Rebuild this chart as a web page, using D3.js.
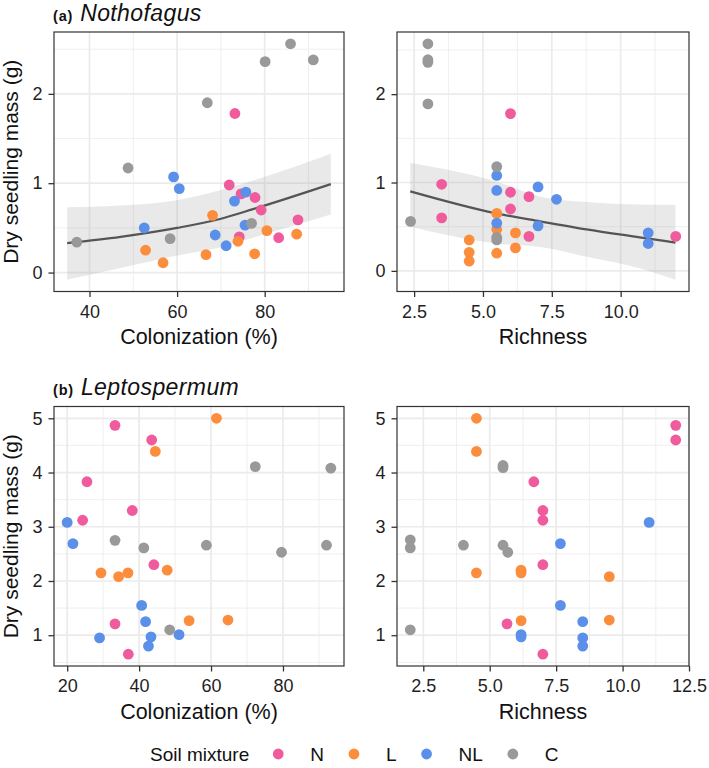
<!DOCTYPE html>
<html>
<head>
<meta charset="utf-8">
<script src="https://cdn.jsdelivr.net/npm/d3@7"></script>
<style>
    body { margin: 0; background: #fff; }
    svg text { font-family: "Liberation Sans", Arial, Helvetica, sans-serif; }
</style>
</head>
<body>
<svg id="chart" width="709" height="768"></svg>
<script>
// Soil mixture groups and their colours
const soilMixtures = ['N', 'L', 'NL', 'C'];
const soilColors = ['#EF5B9C', '#FC8D3D', '#5A8FEA', '#999999'];

// (a) Nothofagus: [colonization %, dry mass g, soil mixture]
const nothoColonization = [
    [73.2, 1.78, 'N'], [71.9, 0.98, 'N'], [74.6, 0.88, 'N'], [77.8, 0.84, 'N'],
    [79.2, 0.70, 'N'], [74.2, 0.40, 'N'], [83.2, 0.39, 'N'], [87.6, 0.59, 'N'],
    [68.1, 0.64, 'L'], [52.8, 0.25, 'L'], [56.8, 0.11, 'L'], [66.6, 0.20, 'L'],
    [73.9, 0.35, 'L'], [77.7, 0.21, 'L'], [80.5, 0.47, 'L'], [87.3, 0.43, 'L'],
    [59.2, 1.07, 'NL'], [60.5, 0.94, 'NL'], [52.5, 0.50, 'NL'], [73.1, 0.80, 'NL'],
    [75.7, 0.90, 'NL'], [68.7, 0.42, 'NL'], [71.2, 0.30, 'NL'], [75.5, 0.53, 'NL'],
    [37.1, 0.34, 'C'], [48.8, 1.17, 'C'], [66.9, 1.90, 'C'], [58.4, 0.38, 'C'],
    [80.1, 2.36, 'C'], [85.9, 2.56, 'C'], [91.1, 2.38, 'C'], [77.0, 0.55, 'C']
];

// (a) Nothofagus: [richness, dry mass g, soil mixture]
const nothoRichness = [
    [3.5, 0.98, 'N'], [3.5, 0.60, 'N'], [6.0, 1.78, 'N'], [6.0, 0.89, 'N'],
    [6.0, 0.70, 'N'], [6.67, 0.84, 'N'], [6.67, 0.39, 'N'], [12.0, 0.39, 'N'],
    [4.5, 0.35, 'L'], [4.5, 0.21, 'L'], [4.5, 0.11, 'L'], [5.5, 0.65, 'L'],
    [5.5, 0.47, 'L'], [5.5, 0.20, 'L'], [6.18, 0.43, 'L'], [6.18, 0.26, 'L'],
    [5.5, 1.08, 'NL'], [5.5, 0.91, 'NL'], [5.5, 0.54, 'NL'], [7.0, 0.95, 'NL'],
    [7.0, 0.51, 'NL'], [7.67, 0.81, 'NL'], [11.0, 0.43, 'NL'], [11.0, 0.31, 'NL'],
    [3.0, 2.57, 'C'], [3.0, 2.39, 'C'], [3.0, 2.36, 'C'], [3.0, 1.89, 'C'],
    [2.37, 0.56, 'C'], [5.5, 1.18, 'C'], [5.5, 0.38, 'C'], [5.5, 0.35, 'C']
];

// (b) Leptospermum: [colonization %, dry mass g, soil mixture]
const leptoColonization = [
    [33.3, 4.87, 'N'], [43.5, 4.60, 'N'], [25.5, 3.83, 'N'], [38.1, 3.30, 'N'],
    [24.3, 3.12, 'N'], [44.1, 2.30, 'N'], [33.3, 1.21, 'N'], [37.0, 0.65, 'N'],
    [61.5, 5.00, 'L'], [44.5, 4.39, 'L'], [29.4, 2.15, 'L'], [34.3, 2.08, 'L'],
    [36.9, 2.15, 'L'], [47.8, 2.20, 'L'], [53.9, 1.27, 'L'], [64.7, 1.28, 'L'],
    [20.0, 3.08, 'NL'], [21.6, 2.69, 'NL'], [40.7, 1.55, 'NL'], [41.8, 1.25, 'NL'],
    [43.3, 0.97, 'NL'], [42.6, 0.80, 'NL'], [29.0, 0.95, 'NL'], [51.1, 1.01, 'NL'],
    [33.3, 2.75, 'C'], [41.3, 2.61, 'C'], [58.7, 2.66, 'C'], [72.3, 4.11, 'C'],
    [93.3, 4.08, 'C'], [79.6, 2.53, 'C'], [92.1, 2.66, 'C'], [48.5, 1.10, 'C']
];

// (b) Leptospermum: [richness, dry mass g, soil mixture]
const leptoRichness = [
    [12.0, 4.87, 'N'], [12.0, 4.60, 'N'], [6.66, 3.83, 'N'], [7.0, 3.30, 'N'],
    [7.0, 3.12, 'N'], [7.0, 2.30, 'N'], [5.65, 1.21, 'N'], [7.0, 0.65, 'N'],
    [4.5, 5.00, 'L'], [4.5, 4.39, 'L'], [4.5, 2.15, 'L'], [6.18, 2.20, 'L'],
    [6.18, 2.15, 'L'], [6.18, 1.27, 'L'], [9.5, 2.08, 'L'], [9.5, 1.28, 'L'],
    [11.0, 3.08, 'NL'], [7.66, 2.69, 'NL'], [7.66, 1.55, 'NL'], [8.5, 1.25, 'NL'],
    [8.5, 0.95, 'NL'], [8.5, 0.80, 'NL'], [6.18, 1.01, 'NL'], [6.18, 0.97, 'NL'],
    [5.5, 4.13, 'C'], [5.5, 4.09, 'C'], [2.01, 2.76, 'C'], [2.01, 2.61, 'C'],
    [4.01, 2.66, 'C'], [5.5, 2.66, 'C'], [5.68, 2.53, 'C'], [2.01, 1.10, 'C']
];

// Fitted curves: [x, fit, lower, upper]
const nothoColFit = [
    [34.9, 0.33, -0.08, 0.73],
    [47.1, 0.40, 0.05, 0.75],
    [60.0, 0.50, 0.19, 0.81],
    [69.8, 0.60, 0.28, 0.92],
    [77.35, 0.71, 0.39, 1.03],
    [95.1, 0.99, 0.65, 1.33]
];
const nothoRichFit = [
    [2.36, 0.90, 0.50, 1.22],
    [5.49, 0.65, 0.31, 1.01],
    [7.08, 0.56, 0.27, 0.84],
    [8.76, 0.47, 0.16, 0.78],
    [10.69, 0.38, 0.03, 0.75],
    [11.99, 0.32, -0.10, 0.745]
];

// Tick values
const massTicksA = [0, 1, 2];
const massTicksB = [1, 2, 3, 4, 5];
const colTicksA = [40, 60, 80];
const colTicksB = [20, 40, 60, 80];
const richTicksA = [2.5, 5.0, 7.5, 10.0];
const richTicksB = [2.5, 5.0, 7.5, 10.0, 12.5];

const colorScale = d3.scaleOrdinal().domain(soilMixtures).range(soilColors);
const svg = d3.select("#chart");

// ggplot-style 5% expansion of the data range
function expand([lo, hi]) {
    const pad = (hi - lo) * 0.05;
    return [lo - pad, hi + pad];
}

// Minor breaks halfway between the major ones
function minorBreaks(ticks, domain) {
    const step = ticks[1] - ticks[0];
    const out = [ticks[0] - step / 2].concat(ticks.map(t => t + step / 2));
    return out.filter(v => v > domain[0] && v < domain[1]);
}

function drawPanel(p) {
    const fit = p.fit || [];
    const xs = p.points.map(d => d[0]).concat(fit.map(d => d[0]));
    const ys = p.points.map(d => d[1]).concat(fit.flatMap(d => [d[2], d[3]]));

    const xScale = d3.scaleLinear().domain(expand(d3.extent(xs))).range([p.left, p.right]);
    const yScale = d3.scaleLinear().domain(expand(d3.extent(ys))).range([p.bottom, p.top]);

    const g = svg.append("g");

    // grid lines
    minorBreaks(p.xTicks, xScale.domain()).forEach(v => {
        g.append("line").attr("x1", xScale(v)).attr("x2", xScale(v))
            .attr("y1", p.top).attr("y2", p.bottom)
            .attr("stroke", "#EBEBEB").attr("stroke-width", 0.8);
    });
    minorBreaks(p.yTicks, yScale.domain()).forEach(v => {
        g.append("line").attr("y1", yScale(v)).attr("y2", yScale(v))
            .attr("x1", p.left).attr("x2", p.right)
            .attr("stroke", "#EBEBEB").attr("stroke-width", 0.8);
    });
    p.xTicks.forEach(v => {
        g.append("line").attr("x1", xScale(v)).attr("x2", xScale(v))
            .attr("y1", p.top).attr("y2", p.bottom)
            .attr("stroke", "#EBEBEB").attr("stroke-width", 1.7);
    });
    p.yTicks.forEach(v => {
        g.append("line").attr("y1", yScale(v)).attr("y2", yScale(v))
            .attr("x1", p.left).attr("x2", p.right)
            .attr("stroke", "#EBEBEB").attr("stroke-width", 1.7);
    });

    // confidence ribbon and fitted line
    if (fit.length) {
        const band = d3.area()
            .x(d => xScale(d[0]))
            .y0(d => yScale(d[2]))
            .y1(d => yScale(d[3]))
            .curve(d3.curveMonotoneX);
        g.append("path").datum(fit)
            .attr("d", band)
            .attr("fill", "#999999")
            .attr("fill-opacity", 0.22);

        const line = d3.line()
            .x(d => xScale(d[0]))
            .y(d => yScale(d[1]))
            .curve(d3.curveMonotoneX);
        g.append("path").datum(fit)
            .attr("d", line)
            .attr("fill", "none")
            .attr("stroke", "#555555")
            .attr("stroke-width", 2.2);
    }

    // points
    g.selectAll(".pt")
        .data(p.points)
        .enter()
        .append("circle")
        .attr("class", "pt")
        .attr("cx", d => xScale(d[0]))
        .attr("cy", d => yScale(d[1]))
        .attr("r", 5.4)
        .attr("fill", d => colorScale(d[2]));

    // panel border
    g.append("rect")
        .attr("x", p.left).attr("y", p.top)
        .attr("width", p.right - p.left).attr("height", p.bottom - p.top)
        .attr("fill", "none").attr("stroke", "#333333").attr("stroke-width", 1.2);

    // axes
    const xAxis = g.append("g")
        .attr("transform", `translate(0,${p.bottom})`)
        .call(d3.axisBottom(xScale).tickValues(p.xTicks).tickFormat(p.xFormat)
            .tickSize(5.5).tickPadding(8));
    const yAxis = g.append("g")
        .attr("transform", `translate(${p.left},0)`)
        .call(d3.axisLeft(yScale).tickValues(p.yTicks).tickFormat(d3.format("d"))
            .tickSize(5.5).tickPadding(6));
    [xAxis, yAxis].forEach(ax => {
        ax.select(".domain").remove();
        ax.selectAll("line").attr("stroke", "#333333").attr("stroke-width", 1.3);
        ax.selectAll("text")
            .attr("fill", "#1f1f1f")
            .style("font-size", "18px");
    });

    // axis titles
    g.append("text")
        .attr("x", (p.left + p.right) / 2)
        .attr("y", p.bottom + 52.5)
        .attr("text-anchor", "middle")
        .style("font-size", "21.5px")
        .attr("fill", "#111")
        .text(p.xTitle);

    if (p.yTitle) {
        g.append("text")
            .attr("transform", `translate(18,${(p.top + p.bottom) / 2}) rotate(-90)`)
            .attr("text-anchor", "middle")
            .style("font-size", "21px")
            .attr("fill", "#111")
            .text(p.yTitle);
    }

    if (p.tag) {
        const t = g.append("text")
            .attr("x", 53)
            .attr("y", p.top - 11.5)
            .attr("fill", "#111");
        t.append("tspan")
            .style("font-size", "14.5px")
            .style("font-weight", "bold")
            .style("letter-spacing", "0.8px")
            .text(p.tag);
        t.append("tspan")
            .attr("dx", 7)
            .style("font-size", "23px")
            .style("font-style", "italic")
            .style("letter-spacing", "0.4px")
            .text(p.species);
    }
}

const oneDec = d3.format(".1f");

drawPanel({
    left: 54, right: 344, top: 32, bottom: 291.5,
    points: nothoColonization, fit: nothoColFit,
    xTicks: colTicksA, yTicks: massTicksA, xFormat: d3.format("d"),
    xTitle: "Colonization (%)", yTitle: "Dry seedling mass (g)",
    tag: "(a)", species: "Nothofagus"
});
drawPanel({
    left: 397, right: 689, top: 32, bottom: 291.5,
    points: nothoRichness, fit: nothoRichFit,
    xTicks: richTicksA, yTicks: massTicksA, xFormat: oneDec,
    xTitle: "Richness"
});
drawPanel({
    left: 54, right: 344, top: 406.5, bottom: 666,
    points: leptoColonization,
    xTicks: colTicksB, yTicks: massTicksB, xFormat: d3.format("d"),
    xTitle: "Colonization (%)", yTitle: "Dry seedling mass (g)",
    tag: "(b)", species: "Leptospermum"
});
drawPanel({
    left: 397, right: 689, top: 406.5, bottom: 666,
    points: leptoRichness,
    xTicks: richTicksB, yTicks: massTicksB, xFormat: oneDec,
    xTitle: "Richness"
});

// Legend along the bottom
const legend = svg.append("g").attr("transform", "translate(150,754)");
const legendTitle = legend.append("text")
    .attr("x", 0).attr("y", 0).attr("dy", "0.36em")
    .style("font-size", "19px").attr("fill", "#111")
    .text("Soil mixture");
let cursor = legendTitle.node().getComputedTextLength() + 29;
soilMixtures.forEach(key => {
    legend.append("circle")
        .attr("cx", cursor).attr("cy", 0).attr("r", 5.4)
        .attr("fill", colorScale(key));
    const label = legend.append("text")
        .attr("x", cursor + 32).attr("y", 0).attr("dy", "0.36em")
        .style("font-size", "19px").attr("fill", "#111")
        .text(key);
    cursor += 32 + label.node().getComputedTextLength() + 30;
});
</script>
</body>
</html>
